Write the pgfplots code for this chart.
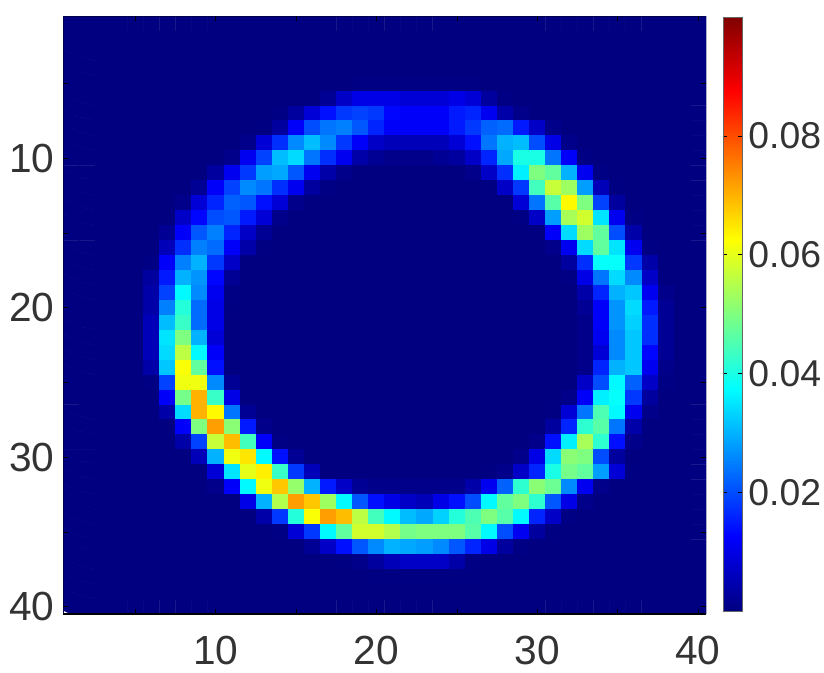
\documentclass[border=0pt]{standalone}
\usepackage{pgfplots}
\pgfplotsset{compat=1.18}
\usepackage{fontspec}
\setmainfont{Liberation Sans}
\definecolor{lab}{gray}{0.2}
\begin{document}
\begin{tikzpicture}[x=1pt,y=1pt]
\path[use as bounding box] (0,0) rectangle (618,504);
\begin{axis}[
  at={(47.25pt,43.5pt)},anchor=south west,
  scale only axis,width=482.25pt,height=448.5pt,
  xmin=0.5,xmax=40.5,ymin=0.5,ymax=40.5,y dir=reverse,
  xtick={5,10,...,40},ytick={5,10,...,40},
  xticklabels={,10,,20,,30,,40},
  yticklabels={,\raisebox{-5pt}{10},,\raisebox{-4pt}{20},,\raisebox{-3pt}{30},,40},
  tick pos=both,
  xticklabel pos=bottom,yticklabel pos=left,
  tick style={black,line width=0.4pt},
  major tick length=4pt,
  tick align=inside,
  axis line style={draw=none},
  tick label style={font=\fontsize{30.5}{33}\selectfont,text=lab},
  x tick label style={yshift=-13pt},
  y tick label style={xshift=-3pt},
  colormap/jet,
  point meta min=0,point meta max=0.1,
  colorbar,
  colorbar style={
    at={(parent axis.south east)},anchor=south west,xshift=4.5pt,yshift=2.25pt,
    width=14.25pt,height=445.5pt,
    ytick={0.02,0.04,0.06,0.08},
    yticklabels={\raisebox{-3.5pt}{0.02},\raisebox{-0.75pt}{0.04},\raisebox{-0.75pt}{0.06},\raisebox{-3pt}{0.08}},
    yticklabel pos=right,
    tick align=inside,
    tick style={black,line width=0.4pt},
    major tick length=3pt,
    axis line style={draw=black!60,line width=0.4pt},
    y tick label style={font=\fontsize{28}{32}\selectfont,text=lab,xshift=1pt},
  },
  axis on top,
]
\addplot[matrix plot*,shader=faceted,faceted color=mapped color,line width=0.3pt,mesh/cols=40,point meta=explicit]
 table[x expr={mod(\coordindex,40)+1},y expr={floor(\coordindex/40)+1},meta=v,row sep=\\]{
v\\
0\\0\\0\\0\\0\\0\\0\\0\\0\\0\\0\\0\\0\\0\\0\\0\\0\\0\\0\\0\\0\\0\\0\\0\\0\\0\\0\\0\\0\\0\\0\\0\\0\\0\\0\\0\\0\\0\\0\\0\\
0\\0\\0\\0\\0\\0\\0\\0\\0\\0\\0\\0\\0\\0\\0\\0\\0\\0\\0\\0\\0\\0\\0\\0\\0\\0\\0\\0\\0\\0\\0\\0\\0\\0\\0\\0\\0\\0\\0\\0\\
0\\0\\0\\0\\0\\0\\0\\0\\0\\0\\0\\0\\0\\0\\0\\0\\0\\0\\0\\0\\0\\0\\0\\0\\0\\0\\0\\0\\0\\0\\0\\0\\0\\0\\0\\0\\0\\0\\0\\0\\
0\\0\\0\\0\\0\\0\\0\\0\\0\\0\\0\\0\\0\\0\\0\\0\\0\\0\\0\\0\\0\\0\\0\\0\\0\\0\\0\\0\\0\\0\\0\\0\\0\\0\\0\\0\\0\\0\\0\\0\\
0\\0\\0\\0\\0\\0\\0\\0\\0\\0\\0\\0\\0\\0\\0\\0\\0\\0\\0.0005\\0.0005\\0.0005\\0.0005\\0.0005\\0.0005\\0.0005\\0.0005\\0\\0\\0\\0\\0\\0\\0\\0\\0\\0\\0\\0\\0\\0\\
0\\0\\0\\0\\0\\0\\0\\0\\0\\0\\0\\0\\0\\0\\0\\0\\0.002\\0.007\\0.010\\0.010\\0.010\\0.0085\\0.0085\\0.0085\\0.010\\0.0085\\0.003\\0.0005\\0\\0\\0\\0\\0\\0\\0\\0\\0\\0\\0\\0\\
0\\0\\0\\0\\0\\0\\0\\0\\0\\0\\0\\0\\0\\0.0005\\0.003\\0.0085\\0.014\\0.018\\0.019\\0.018\\0.013\\0.012\\0.012\\0.012\\0.015\\0.016\\0.011\\0.004\\0.001\\0\\0\\0\\0\\0\\0\\0\\0\\0\\0\\0\\
0\\0\\0\\0\\0\\0\\0\\0\\0\\0\\0\\0\\0.0002\\0.003\\0.012\\0.020\\0.024\\0.025\\0.021\\0.016\\0.012\\0.012\\0.012\\0.012\\0.015\\0.018\\0.022\\0.023\\0.015\\0.007\\0.001\\0\\0\\0\\0\\0\\0\\0\\0\\0\\
0\\0\\0\\0\\0\\0\\0\\0\\0\\0\\0\\0.001\\0.0085\\0.017\\0.026\\0.031\\0.026\\0.018\\0.012\\0.007\\0.0055\\0.0055\\0.0055\\0.0055\\0.0085\\0.014\\0.024\\0.030\\0.031\\0.020\\0.010\\0.001\\0\\0\\0\\0\\0\\0\\0\\0\\
0\\0\\0\\0\\0\\0\\0\\0\\0\\0\\0.001\\0.011\\0.019\\0.031\\0.034\\0.024\\0.017\\0.011\\0.004\\0.002\\0.001\\0.001\\0.001\\0.002\\0.003\\0.007\\0.016\\0.029\\0.040\\0.040\\0.024\\0.012\\0.0005\\0\\0\\0\\0\\0\\0\\0\\
0\\0\\0\\0\\0\\0\\0\\0\\0\\0.003\\0.011\\0.018\\0.028\\0.029\\0.021\\0.011\\0.004\\0.001\\0\\0\\0\\0\\0\\0\\0\\0.001\\0.007\\0.017\\0.036\\0.050\\0.047\\0.030\\0.011\\0.0005\\0\\0\\0\\0\\0\\0\\
0\\0\\0\\0\\0\\0\\0\\0\\0.002\\0.012\\0.019\\0.026\\0.024\\0.017\\0.011\\0.003\\0.0005\\0\\0\\0\\0\\0\\0\\0\\0\\0\\0.0002\\0.007\\0.018\\0.044\\0.057\\0.053\\0.028\\0.0055\\0.0002\\0\\0\\0\\0\\0\\
0\\0\\0\\0\\0\\0\\0\\0.001\\0.0085\\0.016\\0.022\\0.021\\0.014\\0.0085\\0.001\\0\\0\\0\\0\\0\\0\\0\\0\\0\\0\\0\\0\\0\\0.0085\\0.024\\0.046\\0.063\\0.050\\0.019\\0.003\\0\\0\\0\\0\\0\\
0\\0\\0\\0\\0\\0\\0\\0.007\\0.013\\0.020\\0.021\\0.015\\0.0085\\0.001\\0\\0\\0\\0\\0\\0\\0\\0\\0\\0\\0\\0\\0\\0\\0.0005\\0.007\\0.028\\0.054\\0.058\\0.035\\0.011\\0.0005\\0\\0\\0\\0\\
0\\0\\0\\0\\0\\0\\0.002\\0.012\\0.021\\0.025\\0.016\\0.007\\0.002\\0\\0\\0\\0\\0\\0\\0\\0\\0\\0\\0\\0\\0\\0\\0\\0\\0\\0.012\\0.034\\0.053\\0.047\\0.020\\0.004\\0\\0\\0\\0\\
0\\0\\0\\0\\0\\0\\0.0055\\0.017\\0.025\\0.023\\0.012\\0.004\\0.0002\\0\\0\\0\\0\\0\\0\\0\\0\\0\\0\\0\\0\\0\\0\\0\\0\\0\\0.001\\0.011\\0.034\\0.047\\0.035\\0.011\\0.0005\\0\\0\\0\\
0\\0\\0\\0\\0\\0.0005\\0.012\\0.025\\0.030\\0.018\\0.007\\0\\0\\0\\0\\0\\0\\0\\0\\0\\0\\0\\0\\0\\0\\0\\0\\0\\0\\0\\0\\0.003\\0.017\\0.038\\0.038\\0.018\\0.004\\0\\0\\0\\
0\\0\\0\\0\\0\\0.003\\0.015\\0.030\\0.027\\0.013\\0.002\\0\\0\\0\\0\\0\\0\\0\\0\\0\\0\\0\\0\\0\\0\\0\\0\\0\\0\\0\\0\\0.0005\\0.010\\0.024\\0.034\\0.026\\0.007\\0\\0\\0\\
0\\0\\0\\0\\0\\0.004\\0.019\\0.037\\0.026\\0.011\\0.0005\\0\\0\\0\\0\\0\\0\\0\\0\\0\\0\\0\\0\\0\\0\\0\\0\\0\\0\\0\\0\\0\\0.004\\0.016\\0.030\\0.032\\0.011\\0.001\\0\\0\\
0\\0\\0\\0\\0\\0.004\\0.025\\0.041\\0.023\\0.010\\0.0002\\0\\0\\0\\0\\0\\0\\0\\0\\0\\0\\0\\0\\0\\0\\0\\0\\0\\0\\0\\0\\0\\0.002\\0.012\\0.027\\0.034\\0.015\\0.002\\0\\0\\
0\\0\\0\\0\\0\\0.0055\\0.031\\0.043\\0.023\\0.010\\0\\0\\0\\0\\0\\0\\0\\0\\0\\0\\0\\0\\0\\0\\0\\0\\0\\0\\0\\0\\0\\0\\0.001\\0.012\\0.027\\0.033\\0.017\\0.002\\0\\0\\
0\\0\\0\\0\\0\\0.0055\\0.035\\0.050\\0.030\\0.0085\\0\\0\\0\\0\\0\\0\\0\\0\\0\\0\\0\\0\\0\\0\\0\\0\\0\\0\\0\\0\\0\\0\\0.001\\0.011\\0.026\\0.032\\0.017\\0.002\\0\\0\\
0\\0\\0\\0\\0\\0.0055\\0.034\\0.056\\0.037\\0.012\\0\\0\\0\\0\\0\\0\\0\\0\\0\\0\\0\\0\\0\\0\\0\\0\\0\\0\\0\\0\\0\\0\\0.001\\0.0085\\0.026\\0.032\\0.013\\0.002\\0\\0\\
0\\0\\0\\0\\0\\0.004\\0.032\\0.062\\0.047\\0.014\\0\\0\\0\\0\\0\\0\\0\\0\\0\\0\\0\\0\\0\\0\\0\\0\\0\\0\\0\\0\\0\\0\\0.001\\0.016\\0.030\\0.032\\0.011\\0.001\\0\\0\\
0\\0\\0\\0\\0\\0.0005\\0.019\\0.061\\0.061\\0.026\\0.002\\0\\0\\0\\0\\0\\0\\0\\0\\0\\0\\0\\0\\0\\0\\0\\0\\0\\0\\0\\0\\0\\0.007\\0.020\\0.037\\0.022\\0.007\\0.0005\\0\\0\\
0\\0\\0\\0\\0\\0\\0.012\\0.049\\0.070\\0.043\\0.010\\0\\0\\0\\0\\0\\0\\0\\0\\0\\0\\0\\0\\0\\0\\0\\0\\0\\0\\0\\0\\0.001\\0.012\\0.036\\0.038\\0.018\\0.003\\0\\0\\0\\
0\\0\\0\\0\\0\\0\\0.004\\0.034\\0.070\\0.063\\0.024\\0.002\\0\\0\\0\\0\\0\\0\\0\\0\\0\\0\\0\\0\\0\\0\\0\\0\\0\\0\\0.0002\\0.0085\\0.024\\0.045\\0.037\\0.011\\0.001\\0\\0\\0\\
0\\0\\0\\0\\0\\0\\0\\0.012\\0.050\\0.072\\0.051\\0.015\\0.001\\0\\0\\0\\0\\0\\0\\0\\0\\0\\0\\0\\0\\0\\0\\0\\0\\0\\0.003\\0.016\\0.042\\0.046\\0.024\\0.004\\0\\0\\0\\0\\
0\\0\\0\\0\\0\\0\\0\\0.004\\0.019\\0.057\\0.069\\0.044\\0.012\\0.0005\\0\\0\\0\\0\\0\\0\\0\\0\\0\\0\\0\\0\\0\\0\\0\\0.001\\0.014\\0.036\\0.054\\0.042\\0.014\\0.001\\0\\0\\0\\0\\
0\\0\\0\\0\\0\\0\\0\\0\\0.0055\\0.030\\0.061\\0.065\\0.037\\0.014\\0.002\\0\\0\\0\\0\\0\\0\\0\\0\\0\\0\\0\\0\\0\\0.001\\0.010\\0.034\\0.051\\0.050\\0.020\\0.003\\0\\0\\0\\0\\0\\
0\\0\\0\\0\\0\\0\\0\\0\\0\\0.0085\\0.035\\0.060\\0.064\\0.043\\0.018\\0.0055\\0\\0\\0\\0\\0\\0\\0\\0\\0\\0\\0.0002\\0.001\\0.007\\0.016\\0.040\\0.049\\0.047\\0.028\\0.0085\\0.0002\\0\\0\\0\\0\\
0\\0\\0\\0\\0\\0\\0\\0\\0\\0.001\\0.012\\0.037\\0.061\\0.068\\0.052\\0.030\\0.015\\0.007\\0.002\\0.001\\0.001\\0.001\\0.001\\0.001\\0.001\\0.004\\0.011\\0.022\\0.042\\0.051\\0.048\\0.026\\0.011\\0.001\\0\\0\\0\\0\\0\\0\\
0\\0\\0\\0\\0\\0\\0\\0\\0\\0\\0\\0.010\\0.030\\0.055\\0.072\\0.068\\0.053\\0.037\\0.021\\0.014\\0.010\\0.007\\0.0055\\0.010\\0.014\\0.020\\0.037\\0.047\\0.050\\0.042\\0.021\\0.010\\0.001\\0\\0\\0\\0\\0\\0\\0\\
0\\0\\0\\0\\0\\0\\0\\0\\0\\0\\0\\0\\0.004\\0.018\\0.041\\0.062\\0.072\\0.069\\0.056\\0.044\\0.037\\0.031\\0.029\\0.033\\0.041\\0.045\\0.050\\0.046\\0.037\\0.016\\0.007\\0.0005\\0\\0\\0\\0\\0\\0\\0\\0\\
0\\0\\0\\0\\0\\0\\0\\0\\0\\0\\0\\0\\0\\0.0005\\0.0085\\0.018\\0.037\\0.047\\0.058\\0.058\\0.055\\0.049\\0.050\\0.050\\0.050\\0.046\\0.037\\0.020\\0.011\\0.003\\0.0002\\0\\0\\0\\0\\0\\0\\0\\0\\0\\
0\\0\\0\\0\\0\\0\\0\\0\\0\\0\\0\\0\\0\\0\\0\\0.002\\0.007\\0.014\\0.021\\0.026\\0.030\\0.029\\0.028\\0.026\\0.021\\0.016\\0.010\\0.003\\0.0005\\0\\0\\0\\0\\0\\0\\0\\0\\0\\0\\0\\
0\\0\\0\\0\\0\\0\\0\\0\\0\\0\\0\\0\\0\\0\\0\\0\\0\\0.0002\\0.001\\0.003\\0.0055\\0.007\\0.007\\0.007\\0.004\\0.0005\\0\\0\\0\\0\\0\\0\\0\\0\\0\\0\\0\\0\\0\\0\\
0\\0\\0\\0\\0\\0\\0\\0\\0\\0\\0\\0\\0\\0\\0\\0\\0\\0\\0\\0.0002\\0.0002\\0.0002\\0.0002\\0.0002\\0.0002\\0.0002\\0\\0\\0\\0\\0\\0\\0\\0\\0\\0\\0\\0\\0\\0\\
0\\0\\0\\0\\0\\0\\0\\0\\0\\0\\0\\0\\0\\0\\0\\0\\0\\0\\0\\0\\0\\0\\0\\0\\0\\0\\0\\0\\0\\0\\0\\0\\0\\0\\0\\0\\0\\0\\0\\0\\
0\\0\\0\\0\\0\\0\\0\\0\\0\\0\\0\\0\\0\\0\\0\\0\\0\\0\\0\\0\\0\\0\\0\\0\\0\\0\\0\\0\\0\\0\\0\\0\\0\\0\\0\\0\\0\\0\\0\\0\\
};
\draw[black!70!blue,line width=0.5pt] (axis cs:0.5,40.5) -- (axis cs:0.5,0.5) -- (axis cs:40.5,0.5) -- (axis cs:40.5,40.5);
\draw[black,line width=1.5pt] (axis cs:0.5,40.5) -- (axis cs:40.5,40.5);
\end{axis}
\end{tikzpicture}
\end{document}
